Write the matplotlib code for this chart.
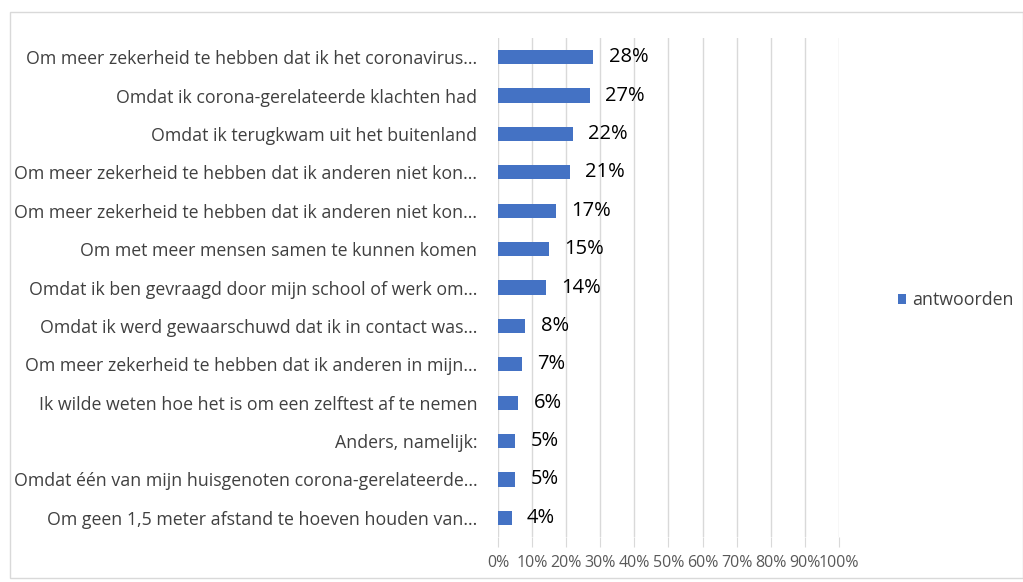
import matplotlib.pyplot as plt
from matplotlib.patches import Rectangle

categories = [
    "Om meer zekerheid te hebben dat ik het coronavirus...",
    "Omdat ik corona-gerelateerde klachten had",
    "Omdat ik terugkwam uit het buitenland",
    "Om meer zekerheid te hebben dat ik anderen niet kon...",
    "Om meer zekerheid te hebben dat ik anderen niet kon...",
    "Om met meer mensen samen te kunnen komen",
    "Omdat ik ben gevraagd door mijn school of werk om...",
    "Omdat ik werd gewaarschuwd dat ik in contact was...",
    "Om meer zekerheid te hebben dat ik anderen in mijn...",
    "Ik wilde weten hoe het is om een zelftest af te nemen",
    "Anders, namelijk:",
    "Omdat één van mijn huisgenoten corona-gerelateerde...",
    "Om geen 1,5 meter afstand te hoeven houden van...",
]
values = [28, 27, 22, 21, 17, 15, 14, 8, 7, 6, 5, 5, 4]
tick_values = list(range(0, 101, 10))
tick_labels = [f"{v}%" for v in tick_values]

plt.rcParams["font.family"] = ["Open Sans", "DejaVu Sans"]
blue = "#4472C4"

fig = plt.figure(figsize=(10.23, 5.82), dpi=100)
ax = fig.add_axes([0.4868, 0.0773, 0.3333, 0.8574])

ypos = list(range(len(categories)))[::-1]
ax.barh(ypos, values, height=0.37, color=blue, label="antwoorden", zorder=3)
for y, v in zip(ypos, values):
    ax.text(v + 4.5, y, f"{v}%", va="center", ha="left", fontsize=14.5, color="black")

ax.set_xlim(0, 100)
ax.set_ylim(-0.5, len(categories) - 0.5)
ax.set_yticks(ypos)
ax.set_yticklabels(categories, fontsize=12.8, color="#404040")
ax.tick_params(axis="y", length=0, pad=15)
ax.set_xticks(tick_values)
ax.set_xticklabels(tick_labels, fontsize=11.5, color="#595959")
ax.tick_params(axis="x", length=7, color="#d9d9d9", pad=6)
ax.grid(axis="x", color="#d9d9d9", linewidth=1, zorder=0)
for s in ax.spines.values():
    s.set_visible(False)

ax.legend(loc="center left", bbox_to_anchor=(1.125, 0.474), frameon=False,
          fontsize=12.8, handlelength=0.5, handleheight=0.5, handletextpad=0.3,
          labelcolor="#404040")

fig.patches.append(Rectangle((10 / 1023, 4 / 582), 1 - 10 / 1023, 1 - 16 / 582,
                             transform=fig.transFigure, fill=False,
                             edgecolor="#d9d9d9", linewidth=1))

fig.savefig("out.png", dpi=100)
